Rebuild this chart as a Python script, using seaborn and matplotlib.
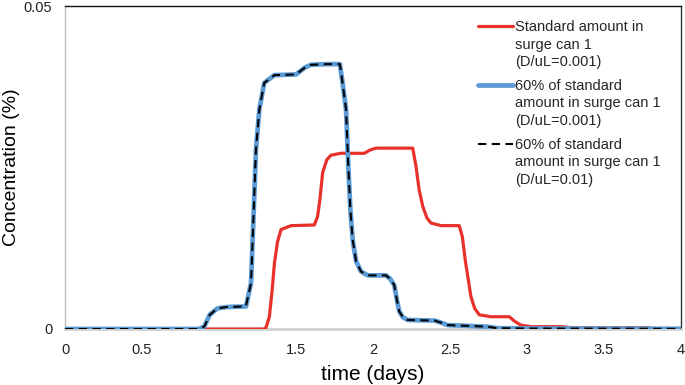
import numpy as np
import pandas as pd
import matplotlib
matplotlib.use("Agg")
import matplotlib.pyplot as plt
import seaborn as sns

# ---- data ----
blue_x = [0, 0.87, 0.905, 0.94, 0.99, 1.05, 1.175, 1.208, 1.225, 1.24, 1.262, 1.294,
          1.36, 1.50, 1.532, 1.56, 1.597, 1.70, 1.785, 1.80, 1.825, 1.84, 1.853,
          1.868, 1.89, 1.922, 1.965, 2.084, 2.11, 2.138, 2.155, 2.171, 2.195, 2.225,
          2.40, 2.44, 2.485, 2.60, 2.745, 2.81, 3.0, 4.0]
blue_y = [0, 0, 0.0004, 0.0022, 0.0032, 0.0034, 0.0035, 0.0071, 0.018, 0.0278, 0.034, 0.0381,
          0.0393, 0.0394, 0.0400, 0.0405, 0.0409, 0.0410, 0.0410, 0.0385, 0.034, 0.025, 0.0185,
          0.0138, 0.0105, 0.0089, 0.0083, 0.0083, 0.0078, 0.0068, 0.0045, 0.0027, 0.0018, 0.0014,
          0.0013, 0.0010, 0.0006, 0.0005, 0.00035, 0.00012, 0.00008, 0.00003]

red_x = [0, 1.29, 1.305, 1.327, 1.345, 1.36, 1.38, 1.403, 1.468, 1.619, 1.64, 1.655,
         1.673, 1.70, 1.727, 1.79, 1.944, 1.98, 2.02, 2.258, 2.279, 2.30, 2.323, 2.35,
         2.377, 2.442, 2.56, 2.58, 2.60, 2.636, 2.66, 2.69, 2.766, 2.885, 2.92, 2.96,
         3.026, 3.22, 3.29, 3.8]
red_y = [0, 0, 0.0002, 0.0019, 0.006, 0.0102, 0.0135, 0.0154, 0.0160, 0.0161, 0.0174, 0.020,
         0.0242, 0.0262, 0.0269, 0.0272, 0.0272, 0.0277, 0.0280, 0.0280, 0.0252, 0.0215, 0.019, 0.0172,
         0.0164, 0.0160, 0.0160, 0.0143, 0.0105, 0.0050, 0.0032, 0.0022, 0.0019, 0.0019, 0.0012, 0.0006,
         0.00036, 0.00036, 0.0002, 0.0002]

labels = ["Standard amount in\nsurge can 1\n(D/uL=0.001)",
          "60% of standard\namount in surge can 1\n(D/uL=0.001)",
          "60% of standard\namount in surge can 1\n(D/uL=0.01)"]
x_ticks = [0, 0.5, 1, 1.5, 2, 2.5, 3, 3.5, 4]
x_tick_labels = ["0", "0.5", "1", "1.5", "2", "2.5", "3", "3.5", "4"]
y_ticks = [0, 0.05]
y_tick_labels = ["0", "0.05"]

sns.set_style("white")
plt.rcParams["font.family"] = ["Liberation Sans", "DejaVu Sans"]

fig = plt.figure(figsize=(6.85, 3.85), dpi=100)
ax = fig.add_axes([65 / 685, 1 - 329 / 385, 616 / 685, 323 / 385])

red_df = pd.DataFrame({"x": red_x, "y": red_y})
blue_df = pd.DataFrame({"x": blue_x, "y": blue_y})

sns.lineplot(data=red_df, x="x", y="y", ax=ax, color="#E8312A", lw=2.3,
             label=labels[0], sort=False, zorder=3)
sns.lineplot(data=blue_df, x="x", y="y", ax=ax, color="#5B9BD5", lw=3.4,
             label=labels[1], sort=False, zorder=4)
sns.lineplot(data=blue_df, x="x", y="y", ax=ax, color="black", lw=1.5,
             label=labels[2], sort=False, zorder=5, dashes=False)
ax.lines[-1].set_dashes((4, 2.6))

ax.set_xlim(0, 4)
ax.set_ylim(0, 0.05)
ax.set_xticks(x_ticks)
ax.set_xticklabels(x_tick_labels)
ax.set_yticks(y_ticks)
ax.set_yticklabels(y_tick_labels)
ax.tick_params(axis="both", length=0, labelsize=10.5, colors="#222222")
ax.tick_params(axis="x", pad=10)
ax.tick_params(axis="y", pad=9)
ax.set_xlabel("time (days)", fontsize=15, labelpad=6, color="black")
ax.set_ylabel("Concentration (%)", fontsize=14, color="black")
ax.yaxis.set_label_coords(-0.073, 0.5)

ax.spines["left"].set_color("#BFBFBF")
ax.spines["left"].set_linewidth(1.0)
ax.spines["bottom"].set_color("#D0D0D0")
ax.spines["bottom"].set_linewidth(2.0)
ax.spines["top"].set_color("#111111")
ax.spines["top"].set_linewidth(1.0)
ax.spines["right"].set_color("#333333")
ax.spines["right"].set_linewidth(1.0)
for s in ax.spines.values():
    s.set_visible(True)

leg = ax.legend(loc="upper left", bbox_to_anchor=(478 / 685, 1 - 20 / 385),
                bbox_transform=fig.transFigure, frameon=False, fontsize=10.5,
                handlelength=2.4, handleheight=1.0, handletextpad=0.15,
                borderpad=0, borderaxespad=0, labelspacing=0.68)
for t in leg.get_texts():
    t.set_linespacing(1.32)
# align each handle with the first line of its label
for col in leg._legend_handle_box.get_children():
    for item in col.get_children():
        item.align = "top"

fig.savefig("out.png", dpi=100)
